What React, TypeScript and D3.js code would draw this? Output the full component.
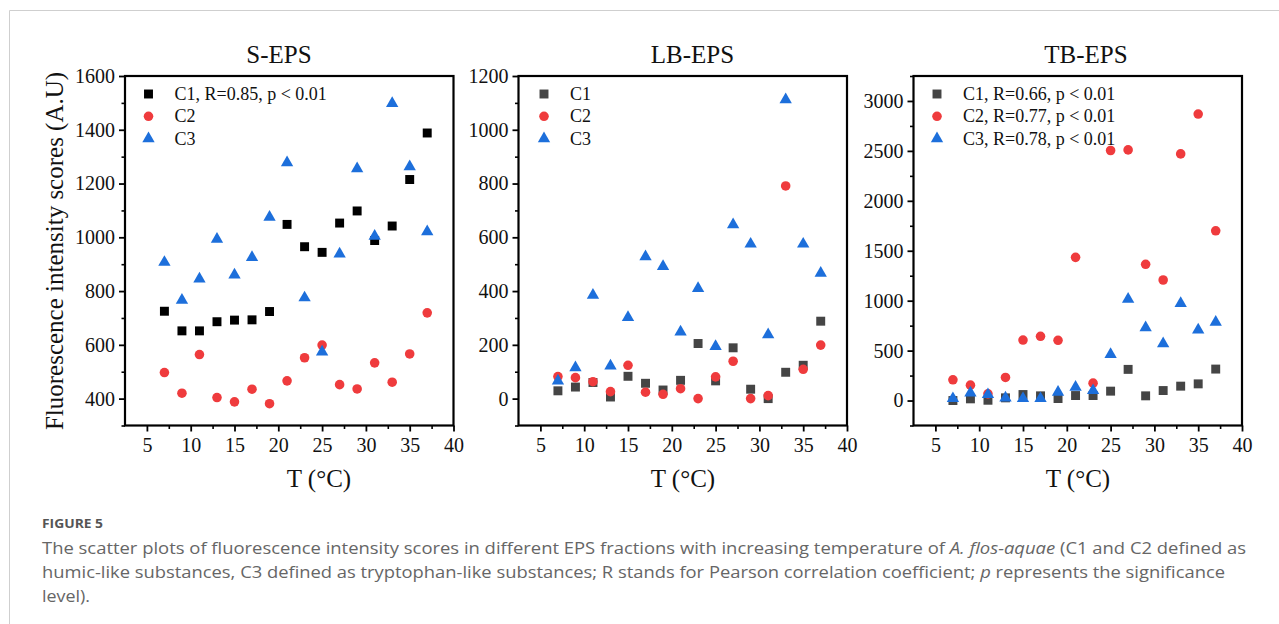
import React, { useEffect, useRef } from 'react';
import * as d3 from 'd3';

// temperatures (°C)
const temps = [7, 9, 11, 13, 15, 17, 19, 21, 23, 25, 27, 29, 31, 33, 35, 37];

// S-EPS
const sC1 = [725, 652, 652, 686, 692, 693, 724, 1048, 965, 944, 1053, 1098, 988, 1042, 1215, 1388];
const sC2 = [497, 420, 564, 404, 388, 435, 381, 466, 552, 599, 452, 436, 533, 461, 566, 719];
const sC3 = [907, 766, 845, 993, 860, 925, 1075, 1278, 775, 574, 938, 1255, 1004, 1498, 1263, 1021];

// LB-EPS
const lbC1 = [29, 43, 60, 6, 83, 57, 32, 68, 205, 66, 189, 35, 0, 98, 124, 288];
const lbC2 = [82, 78, 63, 26, 124, 24, 16, 37, 0, 81, 139, 0, 11, 791, 109, 199];
const lbC3 = [66, 115, 385, 122, 302, 528, 492, 248, 410, 194, 647, 575, 238, 1112, 575, 467];

// TB-EPS
const tbC1 = [0, 17, 3, 27, 60, 47, 20, 50, 50, 94, 312, 47, 100, 144, 167, 315];
const tbC2 = [208, 154, 67, 231, 606, 643, 603, 1434, 174, 2504, 2510, 1364, 1207, 2470, 2869, 1700];
const tbC3 = [20, 77, 60, 27, 20, 20, 84, 134, 100, 462, 1016, 730, 570, 972, 707, 784];

const titles = ['S-EPS', 'LB-EPS', 'TB-EPS'];
const legendS = ['C1, R=0.85, p < 0.01', 'C2', 'C3'];
const legendLB = ['C1', 'C2', 'C3'];
const legendTB = ['C1, R=0.66, p < 0.01', 'C2, R=0.77, p < 0.01', 'C3, R=0.78, p < 0.01'];

const xTicks = [5, 10, 15, 20, 25, 30, 35, 40];
const xMinor = [7.5, 12.5, 17.5, 22.5, 27.5, 32.5, 37.5];
const yTicksS = [400, 600, 800, 1000, 1200, 1400, 1600];
const yMinorS = [300, 500, 700, 900, 1100, 1300, 1500];
const yTicksLB = [0, 200, 400, 600, 800, 1000, 1200];
const yMinorLB = [-100, 100, 300, 500, 700, 900, 1100];
const yTicksTB = [0, 500, 1000, 1500, 2000, 2500, 3000];
const yMinorTB = [-250, 250, 750, 1250, 1750, 2250, 2750, 3250];

const yLabel = 'Fluorescence intensity scores (A.U)';
const xLabel = 'T (°C)';

const RED = '#ef3b3d';
const BLUE = '#1d6fdb';
const GREY = '#454545';
const SERIF = '"Liberation Serif", "Times New Roman", serif';
const SANS = '"Open Sans", "Noto Sans", sans-serif';

const panels = [
  {
    title: titles[0], left: 125, titleX: 279, xLabelX: 319,
    yDomain: [300, 1600], yTicks: yTicksS, yMinor: yMinorS, legendX: 23.5,
    series: [
      { values: sC1, color: '#000', shape: d3.symbolSquare, label: legendS[0] },
      { values: sC2, color: RED, shape: d3.symbolCircle, label: legendS[1] },
      { values: sC3, color: BLUE, shape: d3.symbolTriangle, label: legendS[2] },
    ],
  },
  {
    title: titles[1], left: 518.5, titleX: 692.5, xLabelX: 683,
    yDomain: [-100, 1200], yTicks: yTicksLB, yMinor: yMinorLB, legendX: 25.5,
    series: [
      { values: lbC1, color: GREY, shape: d3.symbolSquare, label: legendLB[0] },
      { values: lbC2, color: RED, shape: d3.symbolCircle, label: legendLB[1] },
      { values: lbC3, color: BLUE, shape: d3.symbolTriangle, label: legendLB[2] },
    ],
  },
  {
    title: titles[2], left: 913.5, titleX: 1086, xLabelX: 1078,
    yDomain: [-250, 3250], yTicks: yTicksTB, yMinor: yMinorTB, legendX: 23.5,
    series: [
      { values: tbC1, color: GREY, shape: d3.symbolSquare, label: legendTB[0] },
      { values: tbC2, color: RED, shape: d3.symbolCircle, label: legendTB[1] },
      { values: tbC3, color: BLUE, shape: d3.symbolTriangle, label: legendTB[2] },
    ],
  },
];

const symbolSize = (shape: d3.SymbolType) =>
  shape === d3.symbolSquare ? 80 : shape === d3.symbolCircle ? 72 : 66;

const App = () => {
  const ref = useRef<SVGSVGElement | null>(null);

  useEffect(() => {
    if (!ref.current) return;
    const svg = d3.select(ref.current);
    svg.selectAll('*').remove();

    const top = 76, bottom = 425.5, plotW = 328.5;

    // card border
    svg.append('path')
      .attr('d', 'M9.5,624 L9.5,10.5 L1279,10.5')
      .attr('fill', 'none')
      .attr('stroke', '#cfcfcf')
      .attr('stroke-width', 1);

    panels.forEach(p => {
      const x = d3.scaleLinear().domain([2.5, 40]).range([p.left, p.left + plotW]);
      const y = d3.scaleLinear().domain(p.yDomain).range([bottom, top]);

      const g = svg.append('g');

      // minor ticks
      g.append('g')
        .attr('transform', `translate(0,${bottom})`)
        .call(d3.axisBottom(x).tickValues(xMinor).tickSize(3.5).tickFormat(() => ''))
        .call(a => a.select('.domain').remove())
        .call(a => a.selectAll('line').attr('stroke-width', 1.6));
      g.append('g')
        .attr('transform', `translate(${p.left},0)`)
        .call(d3.axisLeft(y).tickValues(p.yMinor).tickSize(3.5).tickFormat(() => ''))
        .call(a => a.select('.domain').remove())
        .call(a => a.selectAll('line').attr('stroke-width', 1.6));

      // major ticks
      g.append('g')
        .attr('transform', `translate(0,${bottom})`)
        .call(d3.axisBottom(x).tickValues(xTicks).tickSize(6).tickPadding(6).tickFormat(d3.format('d')))
        .call(a => a.select('.domain').remove())
        .call(a => a.selectAll('line').attr('stroke-width', 1.8))
        .call(a => a.selectAll('text')
          .attr('font-family', SERIF).attr('font-size', 20).attr('fill', '#111'));
      g.append('g')
        .attr('transform', `translate(${p.left},0)`)
        .call(d3.axisLeft(y).tickValues(p.yTicks).tickSize(6).tickPadding(4).tickFormat(d3.format('d')))
        .call(a => a.select('.domain').remove())
        .call(a => a.selectAll('line').attr('stroke-width', 1.8))
        .call(a => a.selectAll('text')
          .attr('font-family', SERIF).attr('font-size', 20).attr('fill', '#111'));

      // points
      p.series.forEach(s => {
        g.append('g')
          .selectAll('path')
          .data(s.values)
          .enter().append('path')
          .attr('d', d3.symbol().type(s.shape).size(symbolSize(s.shape))())
          .attr('transform', (d, i) => `translate(${x(temps[i])},${y(d)})`)
          .attr('fill', s.color);
      });

      // frame
      g.append('rect')
        .attr('x', p.left).attr('y', top)
        .attr('width', plotW).attr('height', bottom - top)
        .attr('fill', 'none')
        .attr('stroke', '#000')
        .attr('stroke-width', 2.2);

      // legend
      p.series.forEach((s, i) => {
        const ly = 94 + i * 22.3;
        g.append('path')
          .attr('d', d3.symbol().type(s.shape).size(symbolSize(s.shape))())
          .attr('transform', `translate(${p.left + p.legendX},${ly})`)
          .attr('fill', s.color);
        g.append('text')
          .attr('x', p.left + p.legendX + 26)
          .attr('y', ly + 6)
          .attr('font-family', SERIF)
          .attr('font-size', 18)
          .attr('fill', '#111')
          .text(s.label);
      });

      // title
      g.append('text')
        .attr('x', p.titleX).attr('y', 63)
        .attr('text-anchor', 'middle')
        .attr('font-family', SERIF)
        .attr('font-size', 25)
        .attr('fill', '#111')
        .text(p.title);

      // x label
      g.append('text')
        .attr('x', p.xLabelX).attr('y', 487)
        .attr('text-anchor', 'middle')
        .attr('font-family', SERIF)
        .attr('font-size', 25)
        .attr('fill', '#111')
        .text(xLabel);
    });

    // y label
    svg.append('text')
      .attr('transform', 'translate(63,251) rotate(-90)')
      .attr('text-anchor', 'middle')
      .attr('font-family', SERIF)
      .attr('font-size', 25)
      .attr('fill', '#111')
      .text(yLabel);

    // caption
    svg.append('text')
      .attr('x', 42).attr('y', 527.5)
      .attr('font-family', SANS)
      .attr('font-size', 13)
      .attr('font-weight', 700)
      .attr('fill', '#555')
      .attr('textLength', 61)
      .attr('lengthAdjust', 'spacingAndGlyphs')
      .text('FIGURE 5');

    const cap = svg.append('g')
      .attr('font-family', SANS)
      .attr('font-size', 16)
      .attr('fill', '#666');

    const l1 = cap.append('text').attr('x', 42).attr('y', 553.5)
      .attr('textLength', 1204).attr('lengthAdjust', 'spacingAndGlyphs');
    l1.append('tspan').text('The scatter plots of fluorescence intensity scores in different EPS fractions with increasing temperature of ');
    l1.append('tspan').attr('font-style', 'italic').text('A. flos-aquae');
    l1.append('tspan').text(' (C1 and C2 defined as');

    const l2 = cap.append('text').attr('x', 42).attr('y', 577.5)
      .attr('textLength', 1183).attr('lengthAdjust', 'spacingAndGlyphs');
    l2.append('tspan').text('humic-like substances, C3 defined as tryptophan-like substances; R stands for Pearson correlation coefficient; ');
    l2.append('tspan').attr('font-style', 'italic').text('p');
    l2.append('tspan').text(' represents the significance');

    cap.append('text').attr('x', 42).attr('y', 601.5)
      .attr('textLength', 48).attr('lengthAdjust', 'spacingAndGlyphs')
      .text('level).');
  }, []);

  return (
    <svg
      ref={ref}
      width={1279}
      height={624}
      style={{ position: 'absolute', left: 0, top: 0, background: '#fff' }}
    />
  );
};

export default App;
